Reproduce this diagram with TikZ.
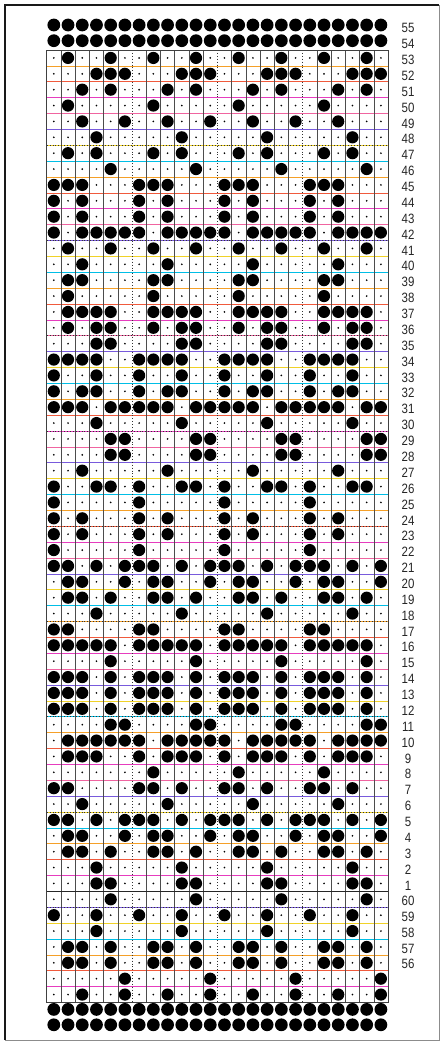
\documentclass[tikz,border=0pt]{standalone}
\usepackage{fontspec}
\newfontfamily\labfont[FakeStretch=0.85]{Liberation Sans}
\definecolor{hl0}{RGB}{0,190,230}
\definecolor{hl1}{RGB}{230,60,190}
\definecolor{hl2}{RGB}{240,210,40}
\definecolor{hl3}{RGB}{240,90,60}
\definecolor{hl4}{RGB}{120,90,220}
\definecolor{hl5}{RGB}{245,160,40}
\definecolor{hl6}{RGB}{240,100,160}
\tikzset{
  rowline/.style={line width=0.7pt},
  colline/.style={line width=0.45pt, draw=black!70},
  dotline/.style={line width=1pt, draw=black!80, dash pattern=on 0.9pt off 2pt},
  hole/.style={fill=black},
  lab/.style={font=\labfont\fontsize{13.5}{14}\selectfont, text=black!85, inner sep=0pt}
}
\begin{document}
\begin{tikzpicture}[x=1pt,y=-1pt]
\useasboundingbox (0,0) rectangle (443,1044);
\fill[white] (0,0) rectangle (443,1044);
\def\gl{46.7}\def\gr{388}\def\gt{50}\def\gb{1002.5}\def\cw{14.221}\def\rh{15.875}
% card frame
\draw[line width=1pt, black!45] (439,5) -- (439,1040) -- (5,1040);
\draw[line width=1.8pt, black!90] (5,1040) -- (5,5) -- (439,5);
% coloured row lines
\foreach \i in {1,...,59} {
  \pgfmathtruncatemacro\k{mod(\i*5,7)}
  \pgfmathsetmacro\yy{\gt+\i*\rh}
  \draw[rowline, draw=hl\k] (\gl,\yy) -- (\gr,\yy);
}
% column lines
\foreach \j in {1,...,23} {
  \pgfmathsetmacro\xx{\gl+\j*\cw}
  \pgfmathtruncatemacro\m{mod(\j,6)}
  \ifnum\m=0
    \draw[dotline] (\xx,\gt) -- (\xx,\gb);
  \else
    \draw[colline] (\xx,\gt) -- (\xx,\gb);
  \fi
}
% dotted row separators
\foreach \i in {6,12,...,54} {
  \pgfmathsetmacro\yy{\gt+\i*\rh}
  \draw[dotline] (\gl,\yy) -- (\gr,\yy);
}
% solid line between row 1 and row 60
\draw[line width=0.8pt, black!85] (\gl,{\gt+53*\rh}) -- (\gr,{\gt+53*\rh});
% grid border
\draw[line width=0.7pt, black!75] (\gl,\gt) rectangle (\gr,\gb);
% small dots
\foreach \r in {0,...,59} {
  \foreach \c in {1,...,24} {
    \fill[black] ({\gl+(\c-0.5)*\cw},{\gt+(\r+0.5)*\rh}) circle (0.95);
  }
}
% full rows of holes
\foreach \yy in {25,40.7,1009.4,1024.8} {
  \foreach \c in {1,...,24} {
    \fill[hole] ({\gl+(\c-0.5)*\cw},\yy) circle (6.4);
  }
}
% punched holes
\foreach \r/\cols in {
 0/{2,5,8,11,14,17,20,23},
 1/{4,5,6,10,11,12,16,17,18,22,23,24},
 2/{3,5,9,11,15,17,21,23},
 3/{2,8,14,20},
 4/{3,6,9,12,15,18,21},
 5/{4,10,16,22},
 6/{2,4,8,10,14,16,20,22},
 7/{5,11,17,23},
 8/{1,2,3,7,8,9,13,14,15,19,20,21},
 9/{1,3,7,9,13,15,19,21},
 10/{1,3,7,9,13,15,19,21},
 11/{1,3,4,5,6,7,9,10,11,12,13,15,16,17,18,19,21,22,23,24},
 12/{2,5,8,11,14,17,20,23},
 13/{3,9,15,21},
 14/{2,3,8,9,14,15,20,21},
 15/{2,8,14,20},
 16/{2,3,4,5,8,9,10,11,14,15,16,17,20,21,22,23},
 17/{2,4,5,8,10,11,14,16,17,20,22,23},
 18/{4,5,10,11,16,17,22,23},
 19/{1,2,3,4,7,8,9,10,13,14,15,16,19,20,21,22},
 20/{1,4,7,10,13,16,19,22},
 21/{1,3,4,7,9,10,13,15,16,19,21,22},
 22/{1,2,3,5,6,7,8,9,11,12,13,14,15,17,18,19,20,21,23,24},
 23/{4,10,16,22},
 24/{5,6,11,12,17,18,23,24},
 25/{5,6,11,12,17,18,23,24},
 26/{3,9,15,21},
 27/{1,4,5,7,10,11,13,16,17,19,22,23},
 28/{1,7,13,19},
 29/{1,3,7,9,13,15,19,21},
 30/{1,3,7,9,13,15,19,21},
 31/{1,7,13,19},
 32/{1,2,4,6,7,8,10,12,13,14,16,18,19,20,22,24},
 33/{2,3,6,8,9,12,14,15,18,20,21,24},
 34/{2,3,5,8,9,11,14,15,17,20,21,23},
 35/{4,10,16,22},
 36/{1,2,7,8,13,14,19,20},
 37/{1,2,3,4,5,7,8,9,10,11,13,14,15,16,17,19,20,21,22,23},
 38/{5,11,17,23},
 39/{1,2,3,5,7,8,9,11,13,14,15,17,19,20,21,23},
 40/{1,2,3,5,7,8,9,11,13,14,15,17,19,20,21,23},
 41/{1,2,3,5,7,8,9,11,13,14,15,17,19,20,21,23},
 42/{5,6,11,12,17,18,23,24},
 43/{2,3,4,5,6,7,9,10,11,12,13,15,16,17,18,19,21,22,23,24},
 44/{2,3,4,7,9,10,11,13,15,16,17,19,21,22,23},
 45/{8,14,20},
 46/{1,2,7,8,10,13,14,16,19,20,22},
 47/{3,9,15,21},
 48/{1,2,4,6,7,8,10,12,13,14,16,18,19,20,22,24},
 49/{2,3,6,8,9,12,14,15,18,20,21,24},
 50/{2,3,5,8,9,11,14,15,17,20,21,23},
 51/{4,10,16,22},
 52/{4,5,10,11,16,17,22,23},
 53/{5,11,17,23},
 54/{1,4,7,10,13,16,19,22},
 55/{4,10,16,22},
 56/{2,3,5,8,9,11,14,15,17,20,21,23},
 57/{2,3,5,8,9,11,14,15,17,20,21,23},
 58/{6,12,18,24},
 59/{3,6,9,12,15,18,21,24}} {
  \foreach \c in \cols {
    \fill[hole] ({\gl+(\c-0.5)*\cw},{\gt+(\r+0.5)*\rh}) circle (6.1);
  }
}
% row labels
\node[lab] (l55) at (408,28) {55};
\node[lab] (l54) at (408,43.5) {54};
\foreach \r in {0,...,52} {
  \pgfmathtruncatemacro\n{53-\r}
  \node[lab] (l\n) at (408,{\gt+(\r+0.5)*\rh+2}) {\n};
}
\foreach \r in {53,...,57} {
  \pgfmathtruncatemacro\n{113-\r}
  \node[lab] (l\n) at (408,{\gt+(\r+0.5)*\rh+1.5}) {\n};
}
\end{tikzpicture}
\end{document}
